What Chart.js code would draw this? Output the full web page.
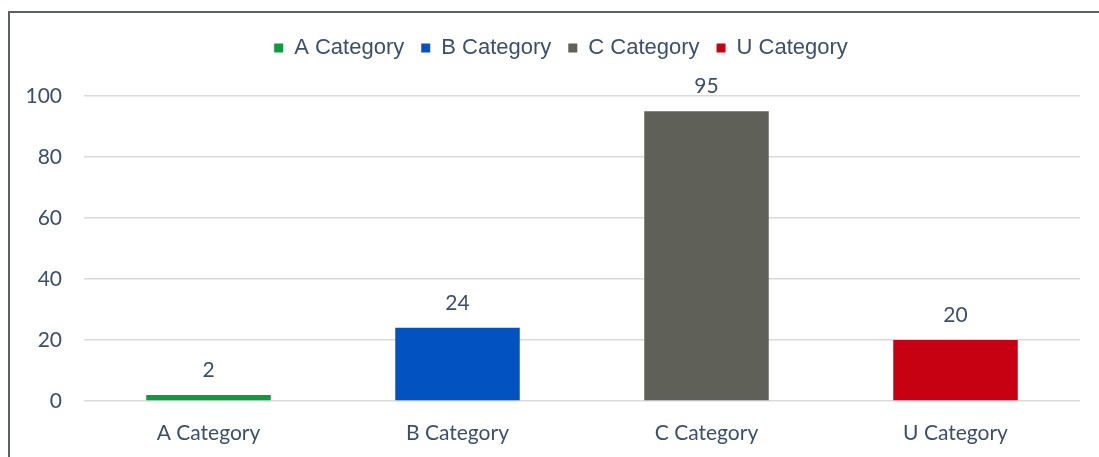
<!DOCTYPE html>
<html>
<head>
<meta charset="utf-8">
<script src="https://cdn.jsdelivr.net/npm/chart.js@4.4.1/dist/chart.umd.min.js"></script>
<style>
  html, body { margin: 0; padding: 0; background: #ffffff; overflow: hidden; }
  #wrap { position: relative; width: 1099px; height: 457px; }
  #frame {
    position: absolute; left: 8px; top: 11px; width: 1200px; height: 600px;
    border-top: 2px solid #5c6065; border-left: 2px solid #5c6065;
    pointer-events: none;
  }
  canvas { position: absolute; left: 0; top: 0; }
</style>
</head>
<body>
<div id="wrap">
  <canvas id="chart" width="1099" height="457"></canvas>
  <div id="frame"></div>
</div>
<script>
// Category names, values and bar colours
const categories = ['A Category', 'B Category', 'C Category', 'U Category'];
const values = [2, 24, 95, 20];
const barColors = ['#0f9a3e', '#0352c2', '#5f6159', '#c70012'];
const yTicks = [0, 20, 40, 60, 80, 100];

const textColor = '#3c5069';
const labelFont = 'Lato, "Open Sans", sans-serif';

// Draws each bar's value above it
const valueLabels = {
  id: 'valueLabels',
  afterDatasetsDraw(chart) {
    const ctx = chart.ctx;
    const meta = chart.getDatasetMeta(0);
    ctx.save();
    ctx.fillStyle = textColor;
    ctx.font = '21px ' + labelFont;
    ctx.textAlign = 'center';
    ctx.textBaseline = 'middle';
    meta.data.forEach((bar, i) => {
      ctx.fillText(String(chart.data.datasets[0].data[i]), bar.x, bar.y - 25);
    });
    ctx.restore();
  }
};

// Gives the legend a fixed band above the plot and nudges it right
const legendBand = {
  id: 'legendBand',
  beforeInit(chart) {
    const fit = chart.legend.fit;
    chart.legend.fit = function () {
      fit.call(this);
      this.height = 76;
    };
  },
  afterLayout(chart) {
    chart.legend.left += 9;
    chart.legend.right += 9;
  }
};

new Chart(document.getElementById('chart'), {
  type: 'bar',
  data: {
    labels: categories,
    datasets: [{
      data: values,
      backgroundColor: barColors,
      borderWidth: 0,
      barPercentage: 0.5,
      categoryPercentage: 1.0
    }]
  },
  options: {
    responsive: false,
    animation: false,
    events: [],
    layout: { padding: { top: 20, left: 24, right: 19, bottom: 0 } },
    plugins: {
      tooltip: { enabled: false },
      legend: {
        display: true,
        position: 'top',
        onClick: null,
        labels: {
          boxWidth: 9,
          boxHeight: 9,
          padding: 17,
          color: textColor,
          font: { family: '"Liberation Sans", Arial, sans-serif', size: 22 },
          generateLabels(chart) {
            return categories.map((name, i) => ({
              text: name,
              fillStyle: barColors[i],
              strokeStyle: barColors[i],
              lineWidth: 0,
              fontColor: textColor,
              hidden: false,
              index: i
            }));
          }
        }
      }
    },
    scales: {
      x: {
        grid: { display: false },
        border: { display: false },
        ticks: {
          color: textColor,
          padding: 12,
          font: { family: labelFont, size: 21 }
        },
        afterFit(scale) { scale.height = 56; }
      },
      y: {
        min: 0,
        max: 100,
        afterBuildTicks(scale) { scale.ticks = yTicks.map(v => ({ value: v })); },
        grid: { color: '#dadada', lineWidth: 1.5, drawTicks: false },
        border: { display: false },
        ticks: {
          color: textColor,
          padding: 22,
          font: { family: labelFont, size: 21 }
        },
        afterFit(scale) { scale.width = 60; }
      }
    }
  },
  plugins: [valueLabels, legendBand]
});
</script>
</body>
</html>
